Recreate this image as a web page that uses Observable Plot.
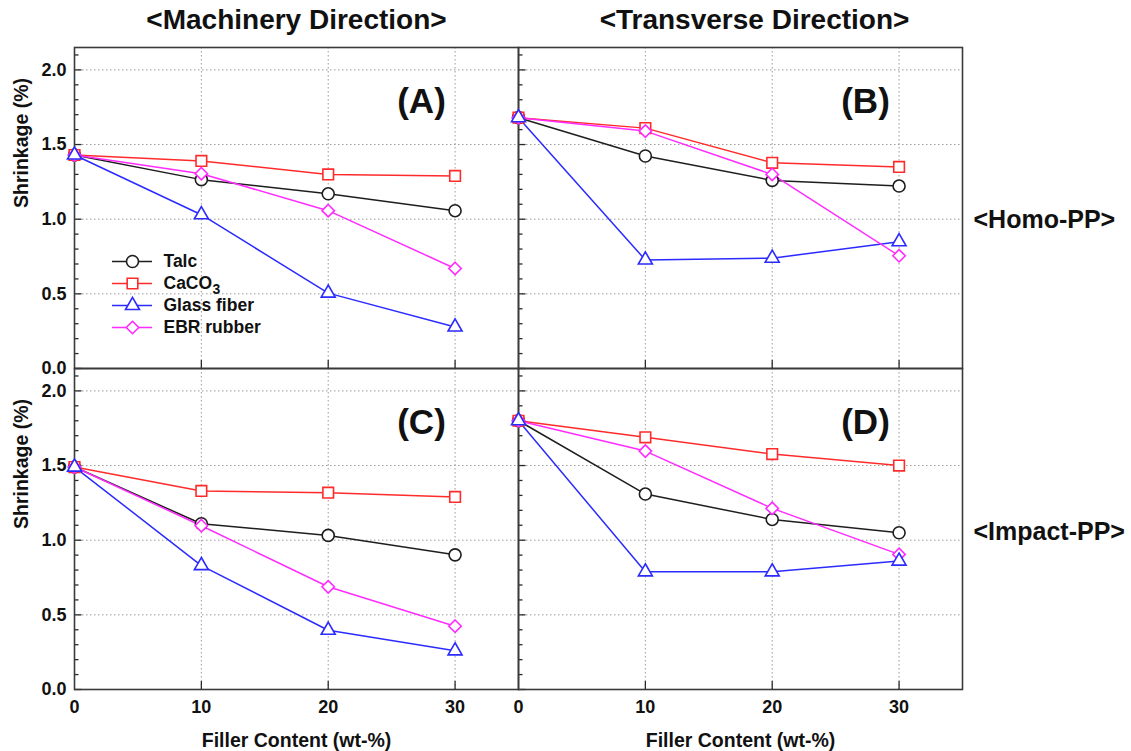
<!DOCTYPE html>
<html>
<head>
<meta charset="utf-8">
<script src="https://cdn.jsdelivr.net/npm/d3@7"></script>
<script src="https://cdn.jsdelivr.net/npm/@observablehq/plot@0.6"></script>
<style>
  html, body { margin: 0; padding: 0; background: #fff; }
  #wrap { position: relative; width: 1131px; height: 751px; overflow: hidden; }
  #main { position: absolute; left: 0; top: 0; width: 1131px; height: 751px; }
  #legend { position: absolute; left: 112px; top: 251px; width: 220px; height: 90px; }
  #main svg, #legend svg { max-width: none !important; }
</style>
</head>
<body>
<div id="wrap"><div id="main"></div><div id="legend"></div></div>
<script>
// ---------------- data ----------------
const fillerContent = [0, 10, 20, 30];
const seriesNames = ["Talc", "CaCO3", "Glass fiber", "EBR rubber"];
const directions = ["MD", "TD"];
const directionTitles = ["<Machinery Direction>", "<Transverse Direction>"];
const grades = ["Homo", "Impact"];
const gradeLabels = ["<Homo-PP>", "<Impact-PP>"];
const panelTags = ["(A)", "(B)", "(C)", "(D)"];

// (A) Homo-PP, machinery direction
const talcA  = [1.43, 1.265, 1.17, 1.057];
const caco3A = [1.43, 1.39, 1.30, 1.29];
const glassA = [1.43, 1.03, 0.505, 0.278];
const ebrA   = [1.43, 1.305, 1.057, 0.67];
// (B) Homo-PP, transverse direction
const talcB  = [1.68, 1.423, 1.26, 1.222];
const caco3B = [1.68, 1.61, 1.378, 1.35];
const glassB = [1.68, 0.727, 0.739, 0.849];
const ebrB   = [1.68, 1.59, 1.30, 0.755];
// (C) Impact-PP, machinery direction
const talcC  = [1.49, 1.11, 1.032, 0.902];
const caco3C = [1.49, 1.33, 1.318, 1.29];
const glassC = [1.49, 0.83, 0.397, 0.259];
const ebrC   = [1.49, 1.097, 0.688, 0.424];
// (D) Impact-PP, transverse direction
const talcD  = [1.80, 1.309, 1.139, 1.05];
const caco3D = [1.80, 1.689, 1.577, 1.50];
const glassD = [1.80, 0.788, 0.788, 0.86];
const ebrD   = [1.80, 1.597, 1.213, 0.905];

// axis tick values
const yTickLabels = [0, 0.5, 1.0, 1.5, 2.0];
const yMinorTicks = [0.1,0.2,0.3,0.4,0.6,0.7,0.8,0.9,1.1,1.2,1.3,1.4,1.6,1.7,1.8,1.9,2.1];
const xTickLabels = [0, 10, 20, 30];
const xGridTicks = [10, 20, 30];

// ---------------- table ----------------
const panels = [
  {dir: "MD", grade: "Homo",   tag: panelTags[0], vals: [talcA, caco3A, glassA, ebrA]},
  {dir: "TD", grade: "Homo",   tag: panelTags[1], vals: [talcB, caco3B, glassB, ebrB]},
  {dir: "MD", grade: "Impact", tag: panelTags[2], vals: [talcC, caco3C, glassC, ebrC]},
  {dir: "TD", grade: "Impact", tag: panelTags[3], vals: [talcD, caco3D, glassD, ebrD]}
];
const rows = [];
for (const p of panels) {
  p.vals.forEach((arr, si) => {
    arr.forEach((v, i) => rows.push({dir: p.dir, grade: p.grade, series: seriesNames[si], filler: fillerContent[i], shrinkage: v}));
  });
}

// ---------------- styles ----------------
const W = 1131, H = 751, mL = 73, mR = 169, mT = 47, mB = 62;
const facetW = (W - mL - mR) / 2, facetH = (H - mT - mB) / 2;
const FONT = "'Liberation Sans', Arial, Helvetica, sans-serif";
const colors = ["#1e1e1e", "#ff2b2b", "#2b2bff", "#ff2bff"];
const symbols = ["circle", "square", "triangle", "diamond2"];
const radius = {"Talc": 6, "CaCO3": 6, "Glass fiber": 5.2, "EBR rubber": 5.6};
const axisColor = "#2a2a2a";

const chart = Plot.plot({
  width: W, height: H,
  marginLeft: mL, marginRight: mR, marginTop: mT, marginBottom: mB,
  style: {fontFamily: FONT, fontWeight: "bold", fontSize: "18px", color: "#111", background: "#fff"},
  x: {domain: [0, 35]},
  y: {domain: [0, 2.15]},
  fx: {domain: directions, padding: 0, axis: null},
  fy: {domain: grades, padding: 0, axis: null},
  color: {domain: seriesNames, range: colors},
  symbol: {domain: seriesNames, range: symbols},
  r: {type: "identity"},
  marks: [
    Plot.gridY(yTickLabels.filter(d => d > 0), {stroke: "#9a9a9a", strokeOpacity: 1, strokeWidth: 1, strokeDasharray: "1.5,2.5"}),
    Plot.gridX(xGridTicks, {stroke: "#9a9a9a", strokeOpacity: 1, strokeWidth: 1, strokeDasharray: "1.5,2.5"}),
    Plot.tickY(yMinorTicks, {y: d => d, insetRight: facetW - 5, stroke: axisColor, strokeWidth: 1.3}),
    Plot.tickY(yTickLabels, {y: d => d, insetRight: facetW - 8, stroke: axisColor, strokeWidth: 1.3}),
    Plot.tickX(xGridTicks, {x: d => d, insetTop: facetH - 8, stroke: axisColor, strokeWidth: 1.3}),
    Plot.frame({stroke: "#3a3a3a", strokeWidth: 1.6}),
    Plot.axisY(yTickLabels, {anchor: "left", tickSize: 0, tickPadding: 8, label: null, tickFormat: d => d.toFixed(1), fontSize: 18}),
    Plot.axisX(xTickLabels, {anchor: "bottom", tickSize: 0, tickPadding: 11, label: null, fontSize: 18}),
    Plot.line(rows, {x: "filler", y: "shrinkage", z: "series", stroke: "series", fx: "dir", fy: "grade", strokeWidth: 1.5}),
    Plot.dot(rows, {x: "filler", y: "shrinkage", symbol: "series", stroke: "series", fill: "white", r: d => radius[d.series], strokeWidth: 1.6, fx: "dir", fy: "grade"}),
    Plot.text(panels, {fx: "dir", fy: "grade", text: "tag", frameAnchor: "top-right", lineAnchor: "middle", dx: -97, dy: 54, textAnchor: "middle", fontSize: 35}),
    Plot.text([directions[0]], {fx: d => d, fy: () => grades[0], text: () => directionTitles[0], frameAnchor: "top", lineAnchor: "middle", dy: -27, fontSize: 28}),
    Plot.text([directions[1]], {fx: d => d, fy: () => grades[0], text: () => directionTitles[1], frameAnchor: "top", lineAnchor: "middle", dx: 14, dy: -27, fontSize: 28}),
    Plot.text([grades[0]], {fx: () => directions[1], fy: d => d, text: () => gradeLabels[0], frameAnchor: "right", lineAnchor: "middle", textAnchor: "start", dx: 11, dy: 12, fontSize: 25}),
    Plot.text([grades[1]], {fx: () => directions[1], fy: d => d, text: () => gradeLabels[1], frameAnchor: "right", lineAnchor: "middle", textAnchor: "start", dx: 11, dy: 3, fontSize: 25}),
    Plot.text(grades, {fx: () => directions[0], fy: d => d, text: () => "Shrinkage (%)", frameAnchor: "left", lineAnchor: "middle", dx: -53, rotate: -90, fontSize: 19.5}),
    Plot.text(directions, {fx: d => d, fy: () => grades[1], text: () => "Filler Content (wt-%)", frameAnchor: "bottom", lineAnchor: "middle", dy: 51, fontSize: 19.5})
  ]
});
document.getElementById("main").appendChild(chart);

// ---------------- legend (panel A) ----------------
const legendText = {"Talc": "Talc", "CaCO3": "CaCO", "Glass fiber": "Glass fiber", "EBR rubber": "EBR rubber"};
const legendFont = 17.5;
const legend = Plot.plot({
  width: 220, height: 90, margin: 0,
  style: {fontFamily: FONT, fontWeight: "bold", fontSize: legendFont + "px", color: "#111", background: "transparent", overflow: "visible"},
  x: {domain: [0, 1], range: [0, 40], axis: null},
  y: {type: "point", domain: seriesNames, range: [10, 76], padding: 0, axis: null},
  color: {domain: seriesNames, range: colors},
  symbol: {domain: seriesNames, range: symbols},
  r: {type: "identity"},
  marks: [
    Plot.ruleY(seriesNames, {y: d => d, x1: 0, x2: 1, stroke: d => d, strokeWidth: 1.5}),
    Plot.dot(seriesNames, {x: 0.5, y: d => d, symbol: d => d, stroke: d => d, fill: "white", r: d => radius[d], strokeWidth: 1.6}),
    Plot.text(seriesNames, {x: 1, y: d => d, text: d => legendText[d], dx: 11, textAnchor: "start", fontSize: legendFont}),
    Plot.text([seriesNames[1]], {x: 1, y: d => d, text: () => "3", dx: 11 + 2.778 * legendFont + 0.5, dy: 6, textAnchor: "start", fontSize: 14})
  ]
});
document.getElementById("legend").appendChild(legend);
</script>
</body>
</html>
